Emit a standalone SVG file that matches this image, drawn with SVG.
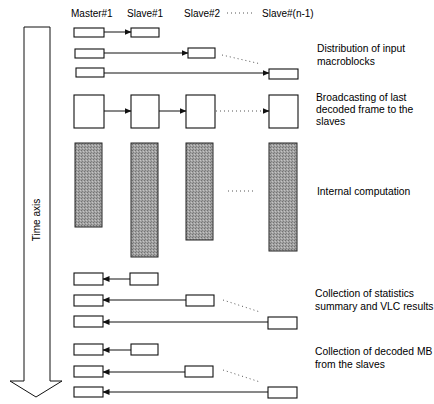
<svg xmlns="http://www.w3.org/2000/svg" width="434" height="404" viewBox="0 0 434 404">
<defs>
<style>
.bx{fill:#fff;stroke:#111;stroke-width:1.1}
.gr{fill:url(#stip);stroke:#222;stroke-width:1}
.ln{stroke:#111;stroke-width:1;fill:none}
.dt{stroke:#555;stroke-width:1;stroke-dasharray:1 3;fill:none}
.hd{font-family:"Liberation Sans",Arial,sans-serif;font-size:10px;fill:#000}
.lb{font-family:"Liberation Sans",Arial,sans-serif;font-size:10.3px;fill:#000}
</style>
<pattern id="stip" width="3" height="3" patternUnits="userSpaceOnUse">
<rect width="3" height="3" fill="#a2a2a2"/>
<rect x="0" y="0" width="1" height="1" fill="#727272"/>
<rect x="2" y="1" width="1" height="1" fill="#c4c4c4"/>
<rect x="1" y="2" width="1" height="1" fill="#808080"/>
</pattern>
<marker id="ah" markerWidth="7" markerHeight="6" refX="6.5" refY="3" orient="auto" markerUnits="userSpaceOnUse">
<path d="M0,0 L7,3 L0,6 Z" fill="#111"/>
</marker>
</defs>
<rect width="434" height="404" fill="#fff"/>

<g id="headers">
<text class="hd" x="71" y="17">Master#1</text>
<text class="hd" x="127" y="17">Slave#1</text>
<text class="hd" x="184" y="17">Slave#2</text>
<line class="dt" x1="227" y1="13" x2="254" y2="13"/>
<text class="hd" x="262" y="17">Slave#(n-1)</text>
</g>

<g id="time-axis">
<polygon points="24,27 50,27 50,381 62,381 36,397 10,381 24,381" fill="#fff" stroke="#111" stroke-width="1"/>
<text class="hd" transform="translate(40,220) rotate(-90)" text-anchor="middle">Time axis</text>
</g>

<g id="distribution">
<rect class="bx" x="74" y="28" width="30" height="9"/>
<rect class="bx" x="131" y="28" width="28" height="9"/>
<rect class="bx" x="75" y="49" width="29" height="9"/>
<rect class="bx" x="188" y="48" width="27" height="10"/>
<rect class="bx" x="76" y="68" width="28" height="9"/>
<rect class="bx" x="269" y="69" width="29" height="10"/>
</g>

<g id="broadcast">
<rect class="bx" x="74" y="95" width="30" height="33"/>
<rect class="bx" x="131" y="95" width="28" height="33"/>
<rect class="bx" x="186" y="95" width="29" height="33"/>
<rect class="bx" x="269" y="95" width="29" height="33"/>
</g>

<g id="computation">
<rect class="gr" x="75" y="143" width="27" height="84"/>
<rect class="gr" x="131" y="143" width="27" height="114"/>
<rect class="gr" x="186" y="143" width="27" height="97"/>
<rect class="gr" x="269" y="143" width="28" height="108"/>
<line class="dt" x1="228" y1="191" x2="256" y2="191"/>
</g>

<g id="statistics">
<rect class="bx" x="74" y="273" width="29" height="12"/>
<rect class="bx" x="130" y="273" width="28" height="12"/>
<rect class="bx" x="74" y="295" width="29" height="11"/>
<rect class="bx" x="186" y="295" width="28" height="11"/>
<rect class="bx" x="74" y="316" width="29" height="11"/>
<rect class="bx" x="268" y="317" width="29" height="12"/>
</g>

<g id="decoded-mb">
<rect class="bx" x="74" y="344" width="29" height="11"/>
<rect class="bx" x="131" y="344" width="27" height="11"/>
<rect class="bx" x="74" y="366" width="29" height="11"/>
<rect class="bx" x="185" y="366" width="28" height="11"/>
<rect class="bx" x="74" y="387" width="29" height="10"/>
<rect class="bx" x="268" y="387" width="29" height="11"/>
</g>

<g id="connectors">
<line class="ln" x1="104" y1="32" x2="131" y2="32" marker-end="url(#ah)"/>
<line class="ln" x1="104" y1="53" x2="188" y2="53" marker-end="url(#ah)"/>
<line class="dt" x1="222" y1="55" x2="261" y2="64"/>
<line class="ln" x1="104" y1="73" x2="269" y2="73" marker-end="url(#ah)"/>

<line class="ln" x1="104" y1="111" x2="131" y2="111" marker-end="url(#ah)"/>
<line class="ln" x1="159" y1="111" x2="186" y2="111" marker-end="url(#ah)"/>
<line class="dt" x1="216" y1="111" x2="262" y2="111"/>
<line class="ln" x1="263" y1="111" x2="269" y2="111" marker-end="url(#ah)"/>

<line class="ln" x1="130" y1="279" x2="103" y2="279" marker-end="url(#ah)"/>
<line class="ln" x1="186" y1="300" x2="103" y2="300" marker-end="url(#ah)"/>
<line class="dt" x1="223" y1="300" x2="260" y2="312"/>
<line class="ln" x1="268" y1="322" x2="103" y2="322" marker-end="url(#ah)"/>

<line class="ln" x1="131" y1="350" x2="103" y2="350" marker-end="url(#ah)"/>
<line class="ln" x1="185" y1="372" x2="103" y2="372" marker-end="url(#ah)"/>
<line class="dt" x1="223" y1="370" x2="260" y2="382"/>
<line class="ln" x1="268" y1="392" x2="103" y2="392" marker-end="url(#ah)"/>
</g>

<g id="labels">
<text class="lb" x="317" y="52">Distribution of input</text>
<text class="lb" x="317" y="65">macroblocks</text>
<text class="lb" x="316" y="101">Broadcasting of last</text>
<text class="lb" x="316" y="113">decoded frame to the</text>
<text class="lb" x="316" y="125">slaves</text>
<text class="lb" x="317" y="195">Internal computation</text>
<text class="lb" x="315" y="297">Collection of statistics</text>
<text class="lb" x="315" y="310">summary and VLC results</text>
<text class="lb" x="315" y="355">Collection of decoded MB</text>
<text class="lb" x="315" y="368">from the slaves</text>
</g>
</svg>
